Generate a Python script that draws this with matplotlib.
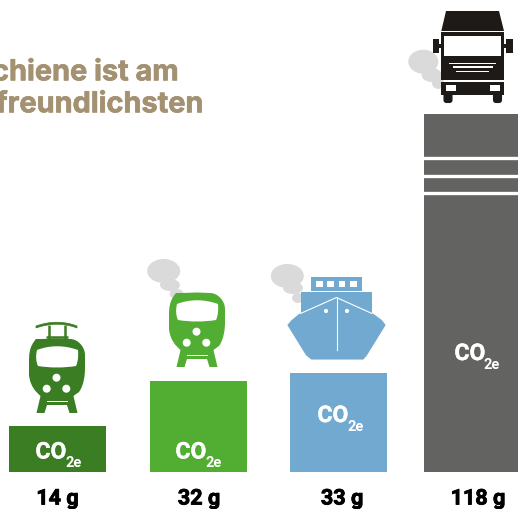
import matplotlib
matplotlib.use("Agg")
import matplotlib.pyplot as plt
import matplotlib.patheffects as pe
from matplotlib.patches import Ellipse, Circle, Rectangle, PathPatch, Polygon, FancyBboxPatch
from matplotlib.path import Path

# --- data ---
value_labels = ["14 g", "32 g", "33 g", "118 g"]
bar_heights = [15.2, 30.0, 32.7, 118.0]   # drawn heights, on the scale of the tallest bar
bar_centres = [57.5, 198.5, 338.5, 472.5]
bar_colors = ["#3a7d22", "#52ae32", "#71a9d0", "#636362"]
title_lines = ["Die Schiene ist am", "klimafreundlichsten"]
stripe_values = [103.6, 97.6, 91.8]

W, H = 518, 510
SHIFT = 1
fig = plt.figure(figsize=(W / 100, H / 100), dpi=100, facecolor="white")

# bar axes: baseline at pixel 472, top (118) at pixel 114
ax = fig.add_axes([0, (H - 472 - SHIFT) / H, 1, (472 - 114) / H])
ax.set_xlim(0, W)
ax.set_ylim(0, 118)
ax.axis("off")
ax.bar(bar_centres, bar_heights, width=97, color=bar_colors, linewidth=0)
for v in stripe_values:
    ax.axhline(v, xmin=424 / W, xmax=1, color="white", lw=2.4)

# overlay in pixel coordinates for text and pictograms
p = fig.add_axes([0, 0, 1, 1], facecolor="none")
p.set_xlim(0, W)
p.set_ylim(H - SHIFT, -SHIFT)
p.axis("off")


def thick(c, w):
    return [pe.withStroke(linewidth=w, foreground=c)]


TITLE = "#a39171"
for line, x, y in zip(title_lines, [179, 203.5], [80.3, 112.3]):
    p.text(x, y, line, ha="right", va="baseline", color=TITLE, family="Inter",
           fontweight="bold", fontsize=20.8, path_effects=thick(TITLE, 0.5))

LAB = "Roboto"
for t, x in zip(value_labels, [57.5, 199, 342, 478]):
    p.text(x, 504.5, t, ha="center", va="baseline", color="black", family=LAB,
           fontweight="bold", fontsize=15.5, path_effects=thick("black", 0.6))


def co2(x, y):
    p.text(x, y, "CO", ha="left", va="baseline", color="white", family=LAB,
           fontweight="bold", fontsize=16.5, path_effects=thick("white", 0.3))
    p.text(x + 29.5, y + 8, "2e", ha="left", va="baseline", color="white", family=LAB,
           fontweight="bold", fontsize=10.5)


co2(35.5, 458.5)
co2(175.5, 458.5)
co2(317.5, 422)
co2(454.5, 360)

SMOKE = "#dadada"


def smoke(items):
    for cx, cy, w, h in items:
        p.add_patch(Ellipse((cx, cy), w, h, color=SMOKE, lw=0))


smoke([(163.7, 271, 33, 24), (170, 285, 20, 12), (176.7, 294, 14, 10)])
smoke([(287.3, 276, 33, 24), (293, 288, 20, 12), (298, 298, 12, 10)])
smoke([(423.3, 61.7, 30, 24), (431.7, 75, 20, 14), (438, 83, 12, 12)])


def train(dx, dy, c, panto=False):
    def T(pts):
        return [(x + dx, y + dy) for x, y in pts]
    M, L, C = Path.MOVETO, Path.LINETO, Path.CURVE4
    body = [(42, 339), (57, 338.5), (70, 339), (78, 339), (85, 347), (85, 355),
            (85, 362), (85, 368), (85, 375), (84, 385), (79, 392), (72, 397),
            (42, 397), (35, 392), (30, 385), (29, 375), (29, 368), (29, 362), (29, 355),
            (29, 347), (36, 339), (42, 339)]
    codes = [M, L, L, C, C, C, L, L, C, C, C, L, L, C, C, C, L, L, C, C, C, L]
    p.add_patch(PathPatch(Path(T(body), codes), fc=c, lw=0))
    win = [(37, 350), (50, 345), (64, 345), (78, 350), (78.5, 356), (78, 362), (76, 366),
           (64, 368), (50, 368), (38, 366), (36, 362), (35.5, 356), (37, 350)]
    wc = [M, C, C, C, C, C, C, C, C, C, C, C, C]
    p.add_patch(PathPatch(Path(T(win), wc), fc="white", lw=0))
    for x, y in [(56.5, 377.7), (46.7, 388.7), (66.3, 388.7)]:
        p.add_patch(Circle((x + dx, y + dy), 4, fc="white", lw=0))
    p.add_patch(Polygon(T([(41, 394), (73, 394), (77.5, 413), (69.5, 413), (67, 405),
                           (47, 405), (44.5, 413), (36.5, 413)]), fc=c, lw=0))
    p.add_patch(Polygon(T([(46.5, 400.5), (67.5, 400.5), (67.5, 402.2), (46.5, 402.2)]), fc="white", lw=0))
    if panto:
        arc = [(36, 328), (50, 323), (64, 323), (77, 328), (77, 326), (64, 321),
               (50, 321), (36, 326), (36, 328)]
        ac = [M, C, C, C, L, C, C, C, L]
        p.add_patch(PathPatch(Path(T(arc), ac), fc=c, lw=0.5, ec=c))
        p.plot([48.5 + dx, 48.5 + dx], [325 + dy, 340 + dy], color=c, lw=1.8, solid_capstyle="butt")
        p.plot([65 + dx, 65 + dx], [325 + dy, 340 + dy], color=c, lw=1.8, solid_capstyle="butt")
        p.plot([46 + dx, 68 + dx], [336.5 + dy, 336.5 + dy], color=c, lw=1.8, solid_capstyle="butt")


train(0, 0, bar_colors[0], panto=True)
train(140, -46, bar_colors[1])


def rect(x0, y0, x1, y1, c):
    p.add_patch(Rectangle((x0, y0), x1 - x0, y1 - y0, fc=c, lw=0))


# ship
SH = bar_colors[2]
rect(311, 277, 361.7, 291, SH)
for x0, x1 in [(316, 322.7), (327, 334), (338.7, 345), (350, 357)]:
    rect(x0, 281, x1, 286.7, "white")
rect(300.7, 292, 372, 316, SH)
hull = [(336.5, 297.5), (300.5, 313.5), (292, 320.5), (288, 325), (306.5, 355), (311.5, 359),
        (363, 359), (366.5, 355), (385, 325), (381.5, 320.5), (372, 313.5)]
p.add_patch(Polygon(hull, fc=SH, ec=SH, lw=0.8, joinstyle="round"))
p.plot([300.5, 336.5, 372], [313.5, 297.5, 313.5], color="white", lw=0.8)
p.plot([336.5, 336.5], [297.5, 349.5], color="white", lw=0.8)
p.add_patch(Circle((326, 311), 2.1, fc="white", lw=0))
p.add_patch(Circle((347, 311), 2.1, fc="white", lw=0))

# truck
K = "#1d1a18"
p.add_patch(Polygon([(446, 11), (499, 11), (504, 31), (441.3, 31)], fc=K, lw=0))
rect(441, 32.3, 504.3, 80, K)
rect(444.3, 36, 501, 55.7, "white")
rect(432.7, 39.3, 439.3, 52.7, K)
rect(506, 39.3, 512.7, 52.7, K)
rect(438, 44, 442, 48, K)
rect(504, 44, 507, 48, K)
for x0, x1, y0, y1 in [(449.3, 496, 62.5, 64), (452.7, 492.7, 66.2, 67.7), (456, 489.3, 70.5, 72)]:
    rect(x0, y0, x1, y1, "white")
rect(441, 81.7, 504.3, 95, K)
rect(446, 84.7, 456, 90.7, "white")
rect(490, 84.7, 500, 90.7, "white")
p.add_patch(FancyBboxPatch((444.5, 93), 7, 9, boxstyle="round,pad=0,rounding_size=2", fc=K, lw=1.5, ec=K))
p.add_patch(FancyBboxPatch((494, 93), 7, 9, boxstyle="round,pad=0,rounding_size=2", fc=K, lw=1.5, ec=K))

fig.savefig("out.png", dpi=100, facecolor="white")
